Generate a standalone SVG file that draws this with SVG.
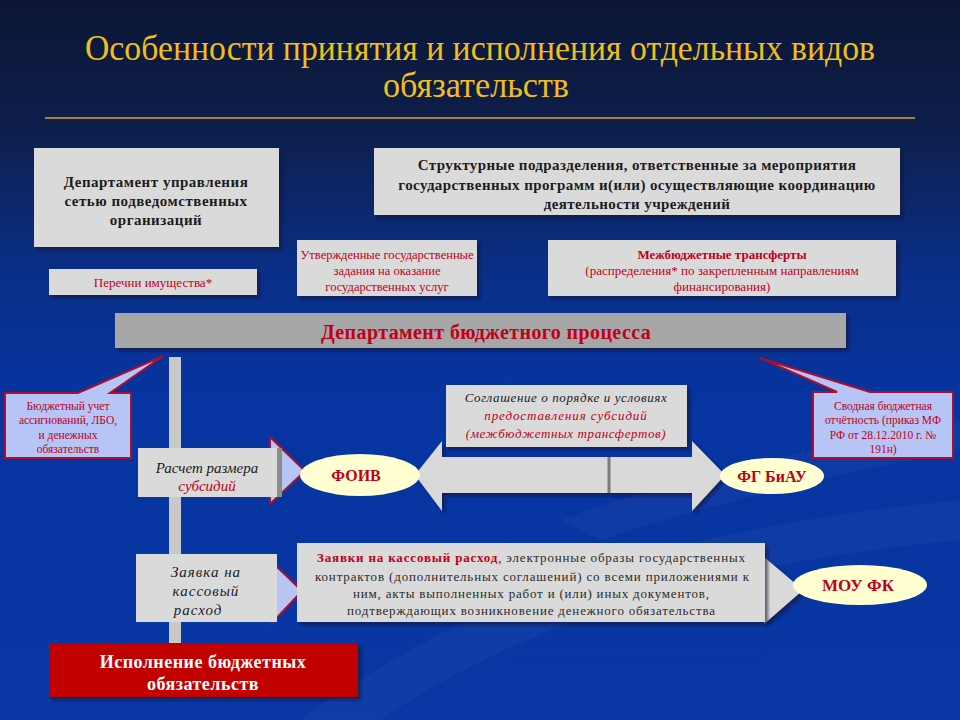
<svg xmlns="http://www.w3.org/2000/svg" width="960" height="720" viewBox="0 0 960 720" font-family="'Liberation Serif', 'DejaVu Serif', serif">
<defs>
  <linearGradient id="bg" x1="0" y1="0" x2="0" y2="1">
    <stop offset="0" stop-color="#0c1634"/>
    <stop offset="0.18" stop-color="#0e1f4c"/>
    <stop offset="0.38" stop-color="#0a2f88"/>
    <stop offset="0.55" stop-color="#0634a0"/>
    <stop offset="1" stop-color="#0836a2"/>
  </linearGradient>
  <filter id="sh" x="-10%" y="-10%" width="130%" height="140%">
    <feDropShadow dx="3" dy="3" stdDeviation="1.5" flood-color="#0a0f30" flood-opacity="0.6"/>
  </filter>
  <style>
    text{font-family:'Liberation Serif','DejaVu Serif',serif}
    .box{fill:#dadada}
    .bar{fill:#a7a7a7}
    .dark{fill:#1c1c1c}
    .red{fill:#c00018}
    .b{font-weight:bold}
    .i{font-style:italic}
    .call{fill:#b6c4f6;stroke:#a8102e;stroke-width:2;stroke-linejoin:miter}
    .tri{fill:#b6c4f6;stroke:#a8102e;stroke-width:2}
    .ell{fill:#ffffd2}
    .arrow{fill:#d9d9d9}
  </style>
</defs>
<rect width="960" height="720" fill="url(#bg)"/>
<path d="M300,720 C520,560 760,520 960,500 L960,540 C760,560 560,600 380,720 Z" fill="#ffffff" opacity="0.035"/>
<path d="M560,520 C700,470 860,440 960,420 L960,450 C860,470 720,500 600,540 Z" fill="#ffffff" opacity="0.035"/>

<g id="title">
  <text x="480" y="60" font-size="36" fill="#f0bf1c" text-anchor="middle" textLength="790" lengthAdjust="spacingAndGlyphs">Особенности принятия и исполнения отдельных видов</text>
  <text x="476" y="97" font-size="36" fill="#f0bf1c" text-anchor="middle" textLength="186" lengthAdjust="spacingAndGlyphs">обязательств</text>
  <line x1="45" y1="118" x2="915" y2="118" stroke="#d2a632" stroke-width="1.5"/>
</g>

<g id="dept-network">
  <rect x="34" y="148" width="245" height="99" class="box" filter="url(#sh)"/>
  <text x="156" y="187" font-size="15" class="dark b" text-anchor="middle" letter-spacing="0.5">Департамент управления</text>
  <text x="156" y="206" font-size="15" class="dark b" text-anchor="middle" letter-spacing="0.5">сетью подведомственных</text>
  <text x="156" y="225" font-size="15" class="dark b" text-anchor="middle" letter-spacing="0.5">организаций</text>
</g>

<g id="property-lists">
  <rect x="49" y="269" width="208" height="26" class="box" filter="url(#sh)"/>
  <text x="153" y="287" font-size="13" class="red" text-anchor="middle">Перечни имущества*</text>
</g>

<g id="structural-units">
  <rect x="374" y="148" width="526" height="67" class="box" filter="url(#sh)"/>
  <text x="637" y="170" font-size="15" class="dark b" text-anchor="middle" letter-spacing="0.4">Структурные подразделения, ответственные за мероприятия</text>
  <text x="637" y="190" font-size="15" class="dark b" text-anchor="middle" letter-spacing="0.4">государственных программ и(или) осуществляющие координацию</text>
  <text x="637" y="209" font-size="15" class="dark b" text-anchor="middle" letter-spacing="0.4">деятельности учреждений</text>
</g>

<g id="state-tasks">
  <rect x="297" y="240" width="180" height="56" class="box" filter="url(#sh)"/>
  <text x="387" y="259" font-size="12.5" class="red" text-anchor="middle">Утвержденные государственные</text>
  <text x="387" y="275" font-size="12.5" class="red" text-anchor="middle">задания на оказание</text>
  <text x="387" y="291" font-size="12.5" class="red" text-anchor="middle">государственных услуг</text>
</g>

<g id="transfers">
  <rect x="548" y="240" width="348" height="56" class="box" filter="url(#sh)"/>
  <text x="722" y="259" font-size="13" class="red b" text-anchor="middle">Межбюджетные трансферты</text>
  <text x="722" y="275" font-size="13" class="red" text-anchor="middle">(распределения* по закрепленным направлениям</text>
  <text x="722" y="291" font-size="13" class="red" text-anchor="middle">финансирования)</text>
</g>

<g id="connectors">
  <rect x="169" y="357" width="12" height="286" fill="#c9c9c9"/>
  <polygon points="415,475 442,441 442,457 692,457 692,441 725,475 692,511 692,493 442,493 442,511" class="arrow" filter="url(#sh)"/>
  <line x1="609" y1="457" x2="609" y2="493" stroke="#7a7a7a" stroke-width="3"/>
  <polygon points="270,437 305,471 270,504" class="tri"/>
  <polygon points="272,562 302,591 272,623" class="tri"/>
  <polygon points="764,557 803,590 764,624" class="arrow" filter="url(#sh)"/>
</g>

<g id="budget-dept">
  <rect x="115" y="313" width="731" height="35" class="bar" filter="url(#sh)"/>
  <text x="486" y="339" font-size="20" class="red b" text-anchor="middle" letter-spacing="0.4">Департамент бюджетного процесса</text>
</g>

<g id="callout-accounting">
  <path d="M5,393 L78,393 L163,356 L110,393 L131,393 L131,458 L5,458 Z" class="call"/>
  <text x="68" y="410" font-size="11.5" class="red" text-anchor="middle">Бюджетный учет</text>
  <text x="68" y="424" font-size="11.5" class="red" text-anchor="middle">ассигнований, ЛБО,</text>
  <text x="68" y="439" font-size="11.5" class="red" text-anchor="middle">и денежных</text>
  <text x="68" y="453" font-size="11.5" class="red" text-anchor="middle">обязательств</text>
</g>

<g id="callout-reporting">
  <path d="M813,392 L837,392 L760,358 L870,392 L953,392 L953,458 L813,458 Z" class="call"/>
  <text x="883" y="410" font-size="11.5" class="red" text-anchor="middle">Сводная бюджетная</text>
  <text x="883" y="424" font-size="11.5" class="red" text-anchor="middle">отчётность (приказ МФ</text>
  <text x="883" y="439" font-size="11.5" class="red" text-anchor="middle">РФ от 28.12.2010 г. №</text>
  <text x="883" y="453" font-size="11.5" class="red" text-anchor="middle">191н)</text>
</g>

<g id="subsidy-calc">
  <rect x="138" y="448" width="139" height="49" class="box"/>
  <rect x="277" y="448" width="5" height="49" fill="#8c8c8c"/>
  <text x="207" y="473" font-size="15" class="dark i" text-anchor="middle">Расчет размера</text>
  <text x="207" y="491" font-size="15" class="red i" text-anchor="middle">субсидий</text>
</g>

<g id="agreement">
  <rect x="446" y="385" width="241" height="62" class="box" filter="url(#sh)"/>
  <text x="566" y="402" font-size="13" class="dark i" text-anchor="middle" letter-spacing="0.6">Соглашение о порядке и условиях</text>
  <text x="566" y="420" font-size="13" class="red i" text-anchor="middle" letter-spacing="0.9">предоставления субсидий</text>
  <text x="566" y="438" font-size="13" class="red i" text-anchor="middle" letter-spacing="0.6">(межбюджетных трансфертов)</text>
</g>

<g id="foiv">
  <ellipse cx="360" cy="475" rx="60" ry="21" class="ell"/>
  <text x="356" y="481" font-size="16" class="red b" text-anchor="middle">ФОИВ</text>
</g>

<g id="fg-biau">
  <ellipse cx="772" cy="476" rx="52" ry="18" class="ell"/>
  <text x="772" y="482" font-size="16" class="red b" text-anchor="middle">ФГ БиАУ</text>
</g>

<g id="cash-request">
  <rect x="136" y="554" width="141" height="68" class="box"/>
  <text x="206" y="577" font-size="15" class="dark i" text-anchor="middle" letter-spacing="1">Заявка на</text>
  <text x="206" y="596" font-size="15" class="dark i" text-anchor="middle" letter-spacing="1">кассовый</text>
  <text x="198" y="615" font-size="15" class="dark i" text-anchor="middle" letter-spacing="1">расход</text>
</g>

<g id="documents">
  <rect x="297" y="543" width="468" height="79" class="box" filter="url(#sh)"/>
  <text x="531" y="562" font-size="13" fill="#2a2a2a" text-anchor="middle" textLength="428" lengthAdjust="spacing"><tspan class="red b">Заявки на кассовый расход</tspan>, электронные образы государственных</text>
  <text x="532" y="581" font-size="13" fill="#2a2a2a" text-anchor="middle" textLength="434" lengthAdjust="spacing">контрактов (дополнительных соглашений) со всеми приложениями к</text>
  <text x="531" y="598" font-size="13" fill="#2a2a2a" text-anchor="middle" textLength="356" lengthAdjust="spacing">ним, акты выполненных работ и (или) иных документов,</text>
  <text x="531" y="615" font-size="13" fill="#2a2a2a" text-anchor="middle" textLength="368" lengthAdjust="spacing">подтверждающих возникновение денежного обязательства</text>
</g>

<g id="mou-fk">
  <ellipse cx="860" cy="585" rx="67" ry="20" class="ell"/>
  <text x="858" y="591" font-size="17" class="red b" text-anchor="middle">МОУ ФК</text>
</g>

<g id="execution">
  <rect x="49" y="643" width="309" height="54" fill="#c10000" filter="url(#sh)"/>
  <text x="203" y="668" font-size="18" fill="#ffffff" class="b" text-anchor="middle" letter-spacing="0.5">Исполнение бюджетных</text>
  <text x="203" y="690" font-size="18" fill="#ffffff" class="b" text-anchor="middle" letter-spacing="0.5">обязательств</text>
</g>
</svg>
